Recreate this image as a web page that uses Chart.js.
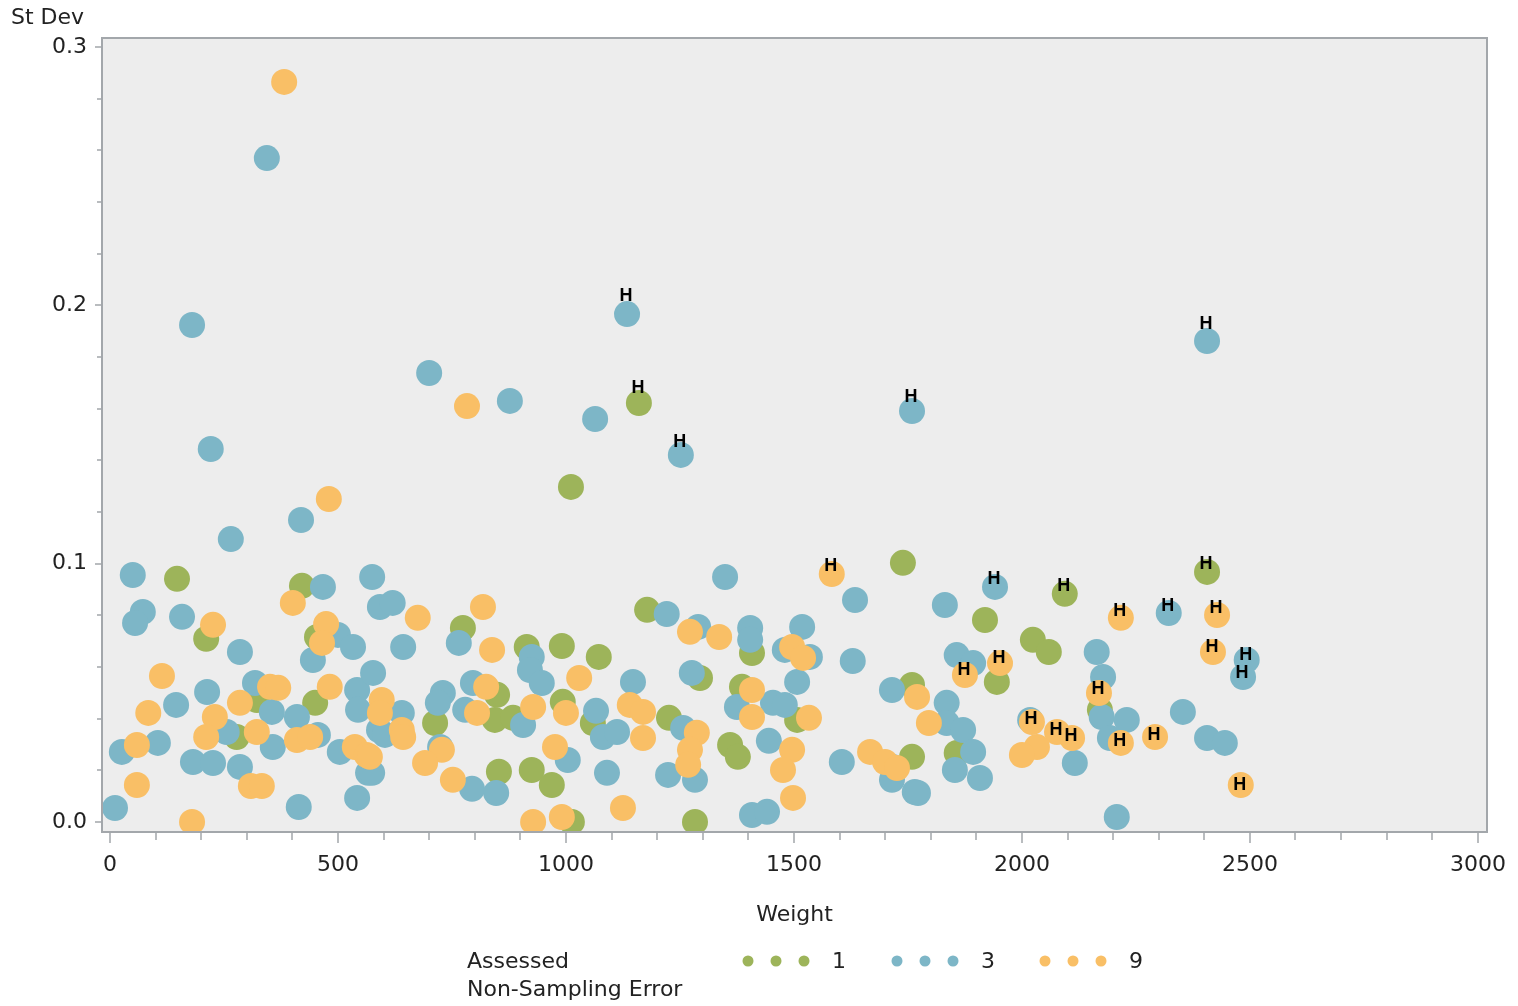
<!DOCTYPE html>
<html lang="en">
<head>
<meta charset="UTF-8">
<title>St Dev by Weight</title>
<script src="https://cdn.jsdelivr.net/npm/chart.js"></script>
<style>
  body { margin: 0; background: #fff; }
</style>
</head>
<body>
<canvas id="grafico" width="1518" height="1006"></canvas>
<script>
// Assessed Non-Sampling Error groups, points are [weight, st dev, label]
const groupNames = ['1', '3', '9'];
const groupColors = ['#9db45a', '#7db6c7', '#f9bf66'];

const group1 = [
  [147, 0.0941], [421, 0.0914], [211, 0.0709], [454, 0.0716], [322, 0.0472],
  [278, 0.0329], [450, 0.0461], [774, 0.0751], [914, 0.0677], [991, 0.0681],
  [1072, 0.0639], [1178, 0.0821], [849, 0.0492], [844, 0.0395], [884, 0.0403],
  [993, 0.0465], [1059, 0.0383], [713, 0.0383], [853, 0.0194], [925, 0.0201],
  [969, 0.0143], [1013, 0.0], [1160, 0.1622, 'H'], [1011, 0.1297], [1739, 0.1003],
  [2406, 0.0968, 'H'], [2094, 0.0883, 'H'], [1408, 0.0654], [1294, 0.0557], [1386, 0.0523],
  [1507, 0.0395], [1226, 0.0403], [1360, 0.0298], [1377, 0.0252], [1283, 0.0],
  [1759, 0.0530], [1759, 0.0252], [1919, 0.0782], [2024, 0.0705], [2059, 0.0658],
  [1945, 0.0542], [2171, 0.0434], [1857, 0.0267]
];

const group3 = [
  [50, 0.0956], [467, 0.0910], [575, 0.0948], [72, 0.0813], [55, 0.0770],
  [158, 0.0794], [285, 0.0658], [500, 0.0724], [533, 0.0677], [445, 0.0627],
  [213, 0.0503], [145, 0.0453], [318, 0.0538], [355, 0.0426], [256, 0.0348],
  [410, 0.0406], [542, 0.0511], [544, 0.0434], [357, 0.0290], [456, 0.0337],
  [26, 0.0271], [105, 0.0306], [182, 0.0232], [226, 0.0228], [285, 0.0213],
  [11, 0.0054], [414, 0.0058], [542, 0.0093], [566, 0.0190], [504, 0.0271],
  [592, 0.0832], [620, 0.0848], [765, 0.0693], [643, 0.0677], [925, 0.0639],
  [921, 0.0588], [947, 0.0538], [1147, 0.0542], [577, 0.0577], [730, 0.0499],
  [719, 0.0461], [796, 0.0538], [779, 0.0434], [906, 0.0375], [1066, 0.0430],
  [1081, 0.0329], [1112, 0.0348], [590, 0.0356], [640, 0.0422], [603, 0.0337],
  [724, 0.0290], [575, 0.0190], [794, 0.0128], [847, 0.0112], [1004, 0.0240],
  [1090, 0.0190], [344, 0.2570], [180, 0.1924], [1134, 0.1966, 'H'], [2406, 0.1862, 'H'],
  [700, 0.1738], [877, 0.1630], [1064, 0.1560], [1759, 0.1591, 'H'], [221, 0.1444],
  [1252, 0.1421, 'H'], [419, 0.1169], [265, 0.1095], [1941, 0.0910, 'H'], [2322, 0.0809, 'H'],
  [2493, 0.0627, 'H'], [2485, 0.0561, 'H'], [1349, 0.0948], [1634, 0.0859], [1221, 0.0805],
  [1290, 0.0755], [1404, 0.0751], [1404, 0.0705], [1518, 0.0755], [1480, 0.0666],
  [1535, 0.0639], [1629, 0.0623], [1276, 0.0577], [1507, 0.0542], [1375, 0.0445],
  [1454, 0.0461], [1480, 0.0453], [1715, 0.0511], [1257, 0.0364], [1224, 0.0182],
  [1283, 0.0163], [1445, 0.0314], [1408, 0.0027], [1441, 0.0039], [1605, 0.0232],
  [1717, 0.0213], [1715, 0.0163], [1765, 0.0116], [1831, 0.0840], [2164, 0.0658],
  [1857, 0.0646], [1893, 0.0615], [2178, 0.0561], [1835, 0.0461], [1835, 0.0383],
  [1871, 0.0356], [2018, 0.0395], [2175, 0.0406], [2230, 0.0395], [2193, 0.0325],
  [2353, 0.0426], [2406, 0.0325], [2445, 0.0306], [1893, 0.0271], [1853, 0.0201],
  [1908, 0.0170], [1772, 0.0112], [2116, 0.0228], [2208, 0.0019]
];

const group9 = [
  [382, 0.2865], [783, 0.1610], [480, 0.1250], [1583, 0.0960, 'H'], [2217, 0.0790, 'H'],
  [2428, 0.0801, 'H'], [2419, 0.0658, 'H'], [1875, 0.0569, 'H'], [1952, 0.0615, 'H'], [2169, 0.0499, 'H'],
  [2022, 0.0387, 'H'], [2077, 0.0348, 'H'], [2110, 0.0325, 'H'], [2217, 0.0306, 'H'], [2292, 0.0329, 'H'],
  [2480, 0.0143, 'H'], [401, 0.0848], [226, 0.0763], [474, 0.0766], [465, 0.0693],
  [114, 0.0565], [84, 0.0422], [351, 0.0523], [369, 0.0519], [285, 0.0461],
  [230, 0.0406], [211, 0.0329], [322, 0.0348], [482, 0.0523], [410, 0.0317],
  [439, 0.0329], [59, 0.0298], [309, 0.0139], [333, 0.0139], [59, 0.0143],
  [180, 0.0], [537, 0.0290], [563, 0.0259], [675, 0.0790], [818, 0.0832],
  [838, 0.0666], [1029, 0.0557], [825, 0.0523], [805, 0.0422], [928, 0.0445],
  [1000, 0.0422], [1140, 0.0453], [1169, 0.0426], [1169, 0.0325], [596, 0.0472],
  [592, 0.0422], [640, 0.0356], [643, 0.0329], [728, 0.0279], [691, 0.0228],
  [570, 0.0252], [752, 0.0163], [976, 0.0290], [1125, 0.0054], [928, 0.0],
  [991, 0.0019], [1272, 0.0736], [1336, 0.0716], [1496, 0.0677], [1520, 0.0635],
  [1408, 0.0511], [1533, 0.0403], [1408, 0.0406], [1770, 0.0484], [1796, 0.0383],
  [1287, 0.0345], [1272, 0.0279], [1268, 0.0221], [1496, 0.0279], [1476, 0.0201],
  [1498, 0.0093], [1667, 0.0271], [1700, 0.0232], [1726, 0.0209], [2033, 0.0290],
  [2000, 0.0259]
];

const xTickLabels = [0, 500, 1000, 1500, 2000, 2500, 3000];
const yTickLabels = ['0.0', '0.1', '0.2', '0.3'];

const FONT = '"DejaVu Sans", sans-serif';
const TEXT = '#222';
const AXIS = '#a3a7ab';

function isMajorY(v) { return Math.abs(v * 10 - Math.round(v * 10)) < 1e-6; }

// plot background, frame, tick marks, titles, H labels and legend
const decor = {
  id: 'decor',
  beforeDraw(chart) {
    const {ctx, chartArea: a} = chart;
    ctx.save();
    ctx.fillStyle = '#ededed';
    ctx.fillRect(a.left, a.top, a.right - a.left, a.bottom - a.top);
    ctx.restore();
  },
  afterDatasetsDraw(chart) {
    const {ctx, scales: {y}} = chart;
    ctx.save();
    ctx.fillStyle = '#000';
    ctx.font = 'bold 18px "Liberation Sans", Arial, sans-serif';
    ctx.textAlign = 'center';
    ctx.textBaseline = 'middle';
    chart.data.datasets.forEach((ds, i) => {
      const meta = chart.getDatasetMeta(i);
      ds.data.forEach((p, j) => {
        if (!p.label) return;
        const pt = meta.data[j];
        ctx.fillText(p.label, pt.x - 1, y.getPixelForValue(p.y * 1.037) + 1);
      });
    });
    ctx.restore();
  },
  afterDraw(chart) {
    const {ctx, chartArea: a, scales: {x, y}} = chart;
    ctx.save();
    ctx.strokeStyle = AXIS;
    ctx.lineWidth = 2;
    ctx.strokeRect(a.left, a.top, a.right - a.left, a.bottom - a.top);

    ctx.lineWidth = 1.5;
    ctx.beginPath();
    x.ticks.forEach(t => {
      const px = Math.round(x.getPixelForValue(t.value));
      const len = t.value % 500 === 0 ? 11 : 8;
      ctx.moveTo(px, a.bottom);
      ctx.lineTo(px, a.bottom + len);
    });
    y.ticks.forEach(t => {
      const py = Math.round(y.getPixelForValue(t.value));
      const len = isMajorY(t.value) ? 7 : 5;
      ctx.moveTo(a.left, py);
      ctx.lineTo(a.left - len, py);
    });
    ctx.stroke();

    ctx.fillStyle = TEXT;
    ctx.font = '22px ' + FONT;
    ctx.textBaseline = 'middle';
    ctx.textAlign = 'left';
    ctx.fillText('St Dev', 11, 18);

    // legend
    ctx.fillText('Assessed', 467, 962);
    ctx.fillText('Non-Sampling Error', 467, 990);
    const starts = [748, 897, 1045];
    groupNames.forEach((name, i) => {
      ctx.fillStyle = groupColors[i];
      for (let k = 0; k < 3; k++) {
        ctx.beginPath();
        ctx.arc(starts[i] + k * 28, 961, 5.5, 0, Math.PI * 2);
        ctx.fill();
      }
      ctx.fillStyle = TEXT;
      ctx.fillText(name, starts[i] + 84, 962);
    });
    ctx.restore();
  }
};

function makeSet(points, i) {
  return {
    label: groupNames[i],
    data: points.map(p => ({x: p[0], y: p[1], label: p[2] || ''})),
    backgroundColor: groupColors[i],
    borderWidth: 0,
    pointRadius: 13,
    pointHoverRadius: 13,
    clip: 0,
    order: 3 - i
  };
}

new Chart(document.getElementById('grafico'), {
  type: 'scatter',
  data: {
    datasets: [makeSet(group1, 0), makeSet(group3, 1), makeSet(group9, 2)]
  },
  options: {
    responsive: false,
    animation: false,
    events: [],
    layout: { padding: { top: 38, right: 31, left: 0, bottom: 0 } },
    plugins: { legend: { display: false }, tooltip: { enabled: false } },
    scales: {
      x: {
        type: 'linear',
        min: -17.5,
        max: 3020,
        afterFit(s) { s.height = 174; s.paddingLeft = 0; s.paddingRight = 0; },
        border: { display: false },
        grid: { drawOnChartArea: false, drawTicks: false },
        ticks: {
          stepSize: 100,
          includeBounds: false,
          autoSkip: false,
          maxRotation: 0,
          padding: 20,
          color: TEXT,
          font: { family: FONT, size: 22 },
          callback: v => xTickLabels.includes(v) ? String(v) : ''
        },
        title: {
          display: true,
          text: 'Weight',
          color: TEXT,
          font: { family: FONT, size: 22 },
          padding: { top: 0, bottom: 78 }
        }
      },
      y: {
        type: 'linear',
        min: -0.0039,
        max: 0.3035,
        afterFit(s) { s.width = 102; },
        border: { display: false },
        grid: { drawOnChartArea: false, drawTicks: false },
        ticks: {
          stepSize: 0.02,
          includeBounds: false,
          autoSkip: false,
          padding: 15,
          color: TEXT,
          font: { family: FONT, size: 22 },
          callback: v => isMajorY(v) ? yTickLabels[Math.round(v * 10)] : ''
        }
      }
    }
  },
  plugins: [decor]
});
</script>
</body>
</html>
